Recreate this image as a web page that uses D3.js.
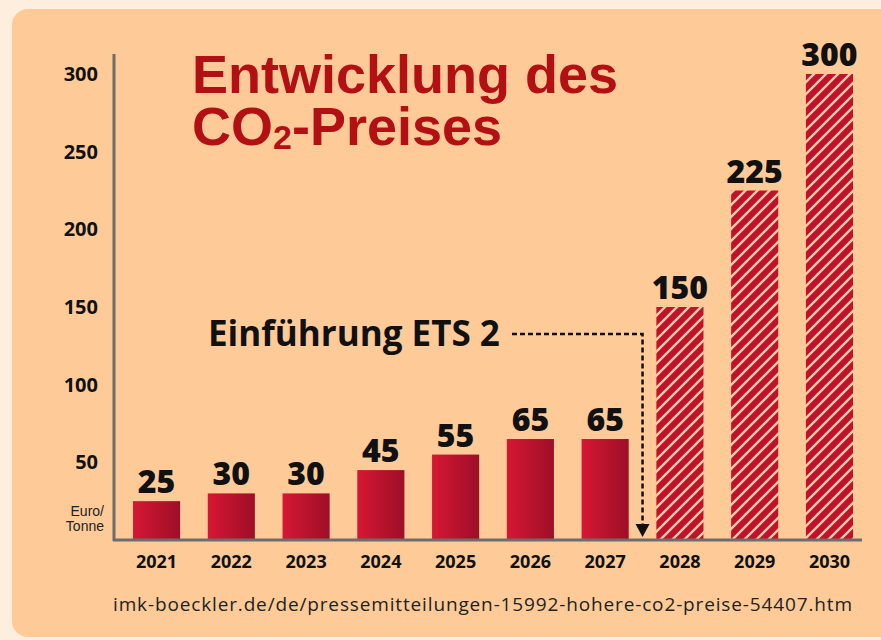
<!DOCTYPE html>
<meta charset="utf-8">
<html>
<style>
body { margin: 0; background: #fdeedd; }
svg { display: block; }
.tick text { font-family: "Open Sans", sans-serif; font-weight: 700; }
</style>
<body>
<script src="https://cdnjs.cloudflare.com/ajax/libs/d3/7.8.5/d3.min.js"></script>
<script type="text/javascript">

// data
var years = ["2021","2022","2023","2024","2025","2026","2027","2028","2029","2030"];
var prices = [25, 30, 30, 45, 55, 65, 65, 150, 225, 300];
var forecast = [false, false, false, false, false, false, false, true, true, true];
var yTicks = [50, 100, 150, 200, 250, 300];

var width = 881, height = 640;

var svg = d3.select("body").append("svg")
    .attr("width", width)
    .attr("height", height);

var defs = svg.append("defs");

// bar gradient, light left to dark right
var grad = defs.append("linearGradient").attr("id", "barGrad");
grad.append("stop").attr("offset", "0%").attr("stop-color", "#d61734");
grad.append("stop").attr("offset", "100%").attr("stop-color", "#9e0e27");

// hatch for the forecast years
var hatch = defs.append("pattern")
    .attr("id", "hatch")
    .attr("patternUnits", "userSpaceOnUse")
    .attr("width", 12).attr("height", 12);
hatch.append("rect").attr("width", 12).attr("height", 12).attr("fill", "#c2112d");
hatch.append("path")
    .attr("d", "M-3,3 l6,-6 M0,12 l12,-12 M9,15 l6,-6")
    .attr("stroke", "#f7cba2")
    .attr("stroke-width", 2.4);

// panel
svg.append("rect")
    .attr("x", 12).attr("y", 9)
    .attr("width", 900).attr("height", 628)
    .attr("rx", 16)
    .attr("fill", "#fecb98");

// scales
var x = d3.scaleBand()
    .domain(years)
    .range([114, 872])
    .paddingInner(0.37)
    .paddingOuter(0.254);

var y = d3.scaleLinear()
    .domain([0, 300])
    .range([540, 74]);

// bars
var bars = svg.append("g").selectAll("g")
    .data(years)
    .enter().append("g");

bars.append("rect")
    .attr("x", function(d) { return x(d); })
    .attr("y", function(d, i) { return y(prices[i]); })
    .attr("width", x.bandwidth())
    .attr("height", function(d, i) { return y(0) - y(prices[i]); })
    .attr("fill", function(d, i) { return forecast[i] ? "url(#hatch)" : "url(#barGrad)"; });

// value labels
bars.append("text")
    .attr("x", function(d) { return x(d) + x.bandwidth() / 2; })
    .attr("y", function(d, i) { return y(prices[i]) - 8; })
    .attr("text-anchor", "middle")
    .style("font-family", "'Open Sans', sans-serif")
    .style("font-weight", 800)
    .style("font-size", "32px")
    .attr("fill", "#111")
    .text(function(d, i) { return prices[i]; });

// y axis
var yAxis = svg.append("g")
    .attr("transform", "translate(114,0)")
    .call(d3.axisLeft(y).tickValues(yTicks).tickSize(0).tickPadding(16));
yAxis.select(".domain").remove();
yAxis.selectAll(".tick text")
    .style("font-size", "20px")
    .attr("fill", "#111");

svg.append("line")
    .attr("x1", 114).attr("x2", 114)
    .attr("y1", 54).attr("y2", 541)
    .attr("stroke", "#6d6d6d").attr("stroke-width", 3);

// x axis
var xAxis = svg.append("g")
    .attr("transform", "translate(0,540)")
    .call(d3.axisBottom(x).tickSize(0).tickPadding(15));
xAxis.select(".domain").remove();
xAxis.selectAll(".tick text")
    .style("font-size", "18px")
    .attr("fill", "#111");

svg.append("line")
    .attr("x1", 113).attr("x2", 862)
    .attr("y1", 540).attr("y2", 540)
    .attr("stroke", "#6d6d6d").attr("stroke-width", 3);

// unit label
var unit = svg.append("text")
    .attr("text-anchor", "end")
    .style("font-family", "'Liberation Sans', Arial, sans-serif")
    .style("font-size", "14px")
    .attr("fill", "#222");
unit.append("tspan").attr("x", 104).attr("y", 516).text("Euro/");
unit.append("tspan").attr("x", 104).attr("y", 531).text("Tonne");

// title
var title = svg.append("text")
    .style("font-family", "'Liberation Sans', Arial, sans-serif")
    .style("font-weight", 700)
    .style("font-size", "54px")
    .attr("fill", "#b31014");
title.append("tspan").attr("x", 192).attr("y", 93).text("Entwicklung des");
var t2 = title.append("tspan").attr("x", 192).attr("y", 145);
t2.text("CO");
title.append("tspan").attr("dy", 4).style("font-size", "34px").text("2");
title.append("tspan").attr("dy", -4).text("-Preises");

// annotation: ETS 2 introduction
var etsX = x("2027") + x.bandwidth() + (x("2028") - x("2027") - x.bandwidth()) / 2;
svg.append("text")
    .attr("x", 208).attr("y", 346)
    .style("font-family", "'Open Sans', sans-serif")
    .style("font-weight", 700)
    .style("font-size", "35px")
    .attr("fill", "#111")
    .text("Einführung ETS 2");

svg.append("path")
    .attr("d", "M512,334 H" + etsX + " V524")
    .attr("fill", "none")
    .attr("stroke", "#111")
    .attr("stroke-width", 2.5)
    .attr("stroke-dasharray", "5,3");

svg.append("path")
    .attr("d", "M" + (etsX - 7) + ",524 L" + (etsX + 7) + ",524 L" + etsX + ",537 Z")
    .attr("fill", "#111");

// source
svg.append("text")
    .attr("x", 113).attr("y", 611)
    .attr("textLength", 739)
    .attr("lengthAdjust", "spacing")
    .style("font-family", "'Open Sans', sans-serif")
    .style("font-size", "19px")
    .attr("fill", "#222")
    .text("imk-boeckler.de/de/pressemitteilungen-15992-hohere-co2-preise-54407.htm");

</script>
</body>
</html>
